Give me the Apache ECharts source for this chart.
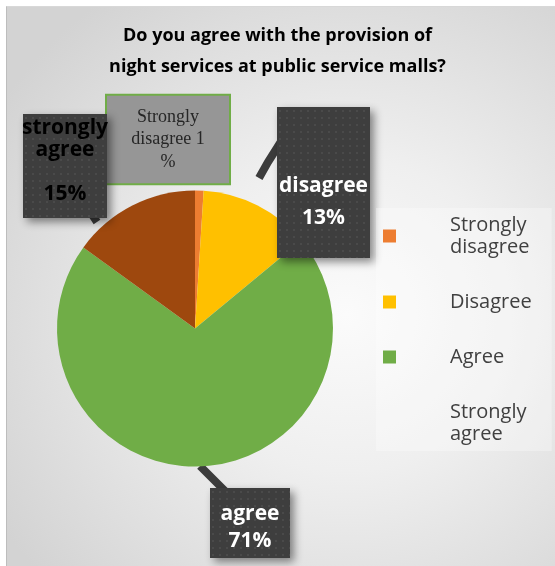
<!DOCTYPE html>
<html>
<head>
<meta charset="utf-8">
<script src="https://cdn.jsdelivr.net/npm/echarts@6/dist/echarts.min.js"></script>
<style>
  html, body { margin: 0; padding: 0; background: #ffffff; }
  #bg { position: absolute; left: 6px; top: 6px; width: 549px; height: 560px;
        background: radial-gradient(ellipse 75% 70% at 62% 55%, #fbfbfb 0%, #efefef 40%, #d3d3d3 100%);
        border-left: 1px solid #bdbdbd; border-top: 1px solid #d8d8d8; box-sizing: border-box; }
  #chart { position: absolute; left: 0; top: 0; width: 555px; height: 566px; }
</style>
</head>
<body>
<div id="bg"></div>
<div id="chart"></div>
<script>
// ---- data ----
const categories = ['Strongly disagree', 'Disagree', 'Agree', 'Strongly agree'];
const values = [1, 13, 71, 15];
const calloutTexts = ['Strongly\ndisagree #\n%', 'disagree\n#%', 'agree\n#%', 'strongly\nagree\n\n#%'];
const titleText = 'Do you agree with the provision of\nnight services at public service malls?';

// ---- styling ----
const colors = ['#ED7D31', '#FFC000', '#70AD47', '#9E480E'];

function dotPattern(w, h) {
  const c = document.createElement('canvas');
  c.width = w; c.height = h;
  const ctx = c.getContext('2d');
  ctx.fillStyle = '#3e3e3e';
  ctx.fillRect(0, 0, w, h);
  ctx.fillStyle = '#4a4a4a';
  for (let y = 3; y < h; y += 7) {
    for (let x = ((y / 7) % 2 ? 2 : 5); x < w; x += 7) {
      ctx.fillRect(x, y, 2, 2);
    }
  }
  return c;
}

// label boxes (center x, center y, width, height) and text spacing inside them
const boxes = [
  { x: 168, y: 139.5, w: 122, h: 91 },
  { x: 323.5, y: 182.5, w: 93, h: 151, lh: 32, pad: 24, top: 39, bottom: 0 },
  { x: 250, y: 523, w: 80, h: 70, lh: 27, pad: 3, top: 10, bottom: 0 },
  { x: 65, y: 166, w: 84, h: 104, lh: 22, pad: 3, top: 0, bottom: 10 }
];
const pointers = [
  null,
  [[259, 178], [268, 162], [282, 140]],
  [[200, 466], [212, 478], [226, 492]],
  [[97, 222], [93, 216], [90, 210]]
];

const darkLabel = (i, color) => {
  const b = boxes[i];
  const t = { color: color, fontFamily: 'Open Sans', fontWeight: 'bold', fontSize: 21, lineHeight: b.lh, width: b.w, align: 'center' };
  return {
    show: true,
    position: 'outside',
    width: b.w,
    overflow: 'none',
    align: 'center',
    padding: [b.pad, 0, b.pad, 0],
    backgroundColor: { image: dotPattern(b.w, b.h) },
    shadowColor: 'rgba(0,0,0,0.45)',
    shadowBlur: 8,
    shadowOffsetX: 4,
    shadowOffsetY: 4,
    rich: {
      t: t,
      top: { fontSize: 1, lineHeight: b.top || 1, width: b.w },
      bot: { fontSize: 1, lineHeight: b.bottom || 1, width: b.w }
    },
    formatter: () => {
      const lines = calloutTexts[i].replace('#', values[i]).split('\n').map(s => '{t|' + (s || ' ') + '}');
      if (b.top) lines.unshift('{top| }');
      if (b.bottom) lines.push('{bot| }');
      return lines.join('\n');
    }
  };
};

const labelStyles = [
  {
    show: true,
    position: 'outside',
    color: '#262626',
    fontFamily: 'Liberation Serif',
    fontSize: 18,
    lineHeight: 22.5,
    width: 118,
    overflow: 'none',
    align: 'center',
    padding: [10, 2, 10, 2],
    backgroundColor: '#969696',
    borderColor: '#70AD47',
    borderWidth: 2,
    formatter: () => calloutTexts[0].replace('#', values[0])
  },
  darkLabel(1, '#ffffff'),
  darkLabel(2, '#ffffff'),
  darkLabel(3, '#000000')
];

const pieData = categories.map((name, i) => ({
  name: name,
  value: values[i],
  itemStyle: { color: colors[i] },
  label: labelStyles[i],
  labelLine: {
    show: !!pointers[i],
    lineStyle: { color: '#3c3c3c', width: 8, cap: 'butt' }
  }
}));

const chart = echarts.init(document.getElementById('chart'), null, { renderer: 'canvas' });
chart.setOption({
  animation: false,
  backgroundColor: 'transparent',
  title: {
    text: titleText,
    left: 'center',
    top: 15,
    textStyle: {
      fontFamily: 'Open Sans',
      fontSize: 18,
      fontWeight: 'bold',
      color: '#000000',
      lineHeight: 31
    }
  },
  legend: {
    orient: 'vertical',
    left: 376,
    top: 208,
    padding: [6, 20, 6, 7],
    backgroundColor: 'rgba(255,255,255,0.3)',
    itemWidth: 13,
    itemHeight: 13,
    itemGap: 33,
    icon: 'rect',
    selectedMode: false,
    data: categories.map((c, i) => ({
      name: c,
      itemStyle: { color: i === 3 ? 'rgba(0,0,0,0)' : colors[i] }
    })),
    formatter: (name) => name.replace(' ', '\n'),
    textStyle: {
      fontFamily: 'Open Sans',
      fontSize: 20,
      lineHeight: 22,
      color: '#404040',
      padding: [0, 0, 0, 49]
    }
  },
  series: [{
    type: 'pie',
    center: [195, 328.5],
    radius: 138,
    startAngle: 90,
    clockwise: true,
    silent: true,
    emphasis: { disabled: true },
    data: pieData,
    labelLayout: (params) => {
      const i = params.dataIndex;
      const b = boxes[i];
      const out = { x: b.x, y: b.y, align: 'center', verticalAlign: 'middle', hideOverlap: false, moveOverlap: false };
      if (pointers[i]) out.labelLinePoints = pointers[i];
      return out;
    }
  }]
});
</script>
</body>
</html>
